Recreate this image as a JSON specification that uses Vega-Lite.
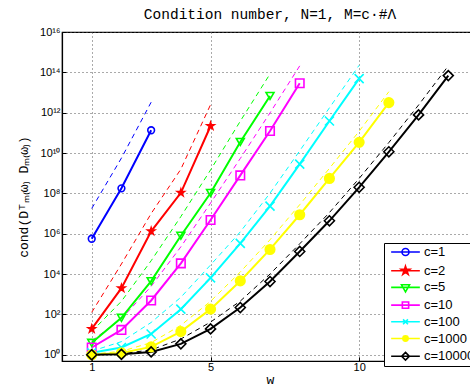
{
  "$schema": "https://vega.github.io/schema/vega-lite/v6.json",
  "width": 416,
  "height": 329,
  "autosize": {"type": "none"},
  "padding": {"left": 62, "top": 32, "right": -8, "bottom": 27},
  "background": "white",
  "title": {"text": "Condition number, N=1, M=c·#Λ", "anchor": "middle", "offset": 4},
  "data": {"values": [
    {"c": "c=1", "w": 1, "m": 5.62e5, "b": 1.78e7},
    {"c": "c=1", "w": 2, "m": 1.78e8, "b": 5.62e9},
    {"c": "c=1", "w": 3, "m": 1.35e11, "b": 3.31e12},
    {"c": "c=2", "w": 1, "m": 19.1, "b": 126},
    {"c": "c=2", "w": 2, "m": 1995, "b": 3.16e4},
    {"c": "c=2", "w": 3, "m": 1.32e6, "b": 1e7},
    {"c": "c=2", "w": 4, "m": 1.07e8, "b": 1.58e9},
    {"c": "c=2", "w": 5, "m": 2.19e11, "b": 2.51e12},
    {"c": "c=5", "w": 1, "m": 3.89, "b": 14.1},
    {"c": "c=5", "w": 2, "m": 67.6, "b": 447},
    {"c": "c=5", "w": 3, "m": 4467, "b": 4.57e4},
    {"c": "c=5", "w": 4, "m": 7.94e5, "b": 7.08e6},
    {"c": "c=5", "w": 5, "m": 1.05e8, "b": 1.45e9},
    {"c": "c=5", "w": 6, "m": 3.55e10, "b": 3.8e11},
    {"c": "c=5", "w": 7, "m": 6.76e12, "b": 8.3e13},
    {"c": "c=10", "w": 1, "m": 2.29, "b": 4.9},
    {"c": "c=10", "w": 2, "m": 17.0, "b": 60.3},
    {"c": "c=10", "w": 3, "m": 490, "b": 2455},
    {"c": "c=10", "w": 4, "m": 3.39e4, "b": 2.24e5},
    {"c": "c=10", "w": 5, "m": 4.79e6, "b": 3.31e7},
    {"c": "c=10", "w": 6, "m": 7.76e8, "b": 5.37e9},
    {"c": "c=10", "w": 7, "m": 1.23e11, "b": 9.77e11},
    {"c": "c=10", "w": 8, "m": 2.88e13, "b": 2.09e14},
    {"c": "c=100", "w": 1, "m": 1.26, "b": 1.51},
    {"c": "c=100", "w": 2, "m": 2.29, "b": 4.47},
    {"c": "c=100", "w": 3, "m": 10.7, "b": 39.8},
    {"c": "c=100", "w": 4, "m": 182, "b": 708},
    {"c": "c=100", "w": 5, "m": 6457, "b": 2.82e4},
    {"c": "c=100", "w": 6, "m": 3.31e5, "b": 1.23e6},
    {"c": "c=100", "w": 7, "m": 2.34e7, "b": 1.02e8},
    {"c": "c=100", "w": 8, "m": 2.82e9, "b": 1.29e10},
    {"c": "c=100", "w": 9, "m": 3.89e11, "b": 1.74e12},
    {"c": "c=100", "w": 10, "m": 4.9e13, "b": 2.24e14},
    {"c": "c=1000", "w": 1, "m": 1.0, "b": 1.07},
    {"c": "c=1000", "w": 2, "m": 1.23, "b": 1.48},
    {"c": "c=1000", "w": 3, "m": 2.45, "b": 3.98},
    {"c": "c=1000", "w": 4, "m": 14.1, "b": 28.8},
    {"c": "c=1000", "w": 5, "m": 182, "b": 447},
    {"c": "c=1000", "w": 6, "m": 4571, "b": 1.26e4},
    {"c": "c=1000", "w": 7, "m": 1.66e5, "b": 5.01e5},
    {"c": "c=1000", "w": 8, "m": 8.71e6, "b": 2.75e7},
    {"c": "c=1000", "w": 9, "m": 5.5e8, "b": 1.74e9},
    {"c": "c=1000", "w": 10, "m": 3.39e10, "b": 1.2e11},
    {"c": "c=1000", "w": 11, "m": 3.16e12, "b": 1.1e13},
    {"c": "c=10000", "w": 1, "m": 1.0, "b": 1.02},
    {"c": "c=10000", "w": 2, "m": 1.05, "b": 1.12},
    {"c": "c=10000", "w": 3, "m": 1.38, "b": 1.74},
    {"c": "c=10000", "w": 4, "m": 3.47, "b": 6.03},
    {"c": "c=10000", "w": 5, "m": 19.1, "b": 41.7},
    {"c": "c=10000", "w": 6, "m": 219, "b": 457},
    {"c": "c=10000", "w": 7, "m": 4266, "b": 1e4},
    {"c": "c=10000", "w": 8, "m": 1.32e5, "b": 3.16e5},
    {"c": "c=10000", "w": 9, "m": 4.37e6, "b": 1.12e7},
    {"c": "c=10000", "w": 10, "m": 2.0e8, "b": 5.5e8},
    {"c": "c=10000", "w": 11, "m": 1.15e10, "b": 3.31e10},
    {"c": "c=10000", "w": 12, "m": 7.76e11, "b": 2.4e12},
    {"c": "c=10000", "w": 13, "m": 6.92e13, "b": 2.09e14}
  ]},
  "transform": [{"fold": ["m", "b"], "as": ["kind", "v"]}],
  "encoding": {
    "x": {
      "field": "w", "type": "quantitative",
      "scale": {"domain": [0, 14], "nice": false, "zero": false},
      "axis": {"values": [1, 5, 10], "title": "w", "titleFont": "Liberation Mono", "titleFontSize": 13, "titlePadding": 1, "labelPadding": 4, "format": "d"}
    },
    "y": {
      "field": "v", "type": "quantitative",
      "scale": {"type": "log", "domain": [0.49, 1e16], "nice": false},
      "axis": {
        "values": [1, 1e2, 1e4, 1e6, 1e8, 1e10, 1e12, 1e14, 1e16],
        "labelExpr": "'10' + ['⁰','','²','','⁴','','⁶','','⁸','','¹⁰','','¹²','','¹⁴','','¹⁶'][round(log(datum.value)/LN10)]",
        "title": "cond(Dᵀₘ₍ω₎ Dₘ₍ω₎)",
        "titleFont": "Liberation Mono", "titleFontSize": 13, "titlePadding": 9, "labelPadding": 6
      }
    }
  },
  "layer": [
    {
      "transform": [{"filter": "datum.kind == 'b'"}],
      "mark": {"type": "line", "strokeDash": [5, 4], "strokeWidth": 1},
      "encoding": {
        "stroke": {"field": "c", "type": "nominal", "legend": null,
          "scale": {"domain": ["c=1","c=2","c=5","c=10","c=100","c=1000","c=10000"], "range": ["#0000ff","#ff0000","#00ff00","#ff00ff","#00ffff","#ffff00","#000000"]}}
      }
    },
    {
      "transform": [{"filter": "datum.kind == 'm'"}],
      "mark": {"type": "line", "strokeWidth": 2},
      "encoding": {
        "stroke": {"field": "c", "type": "nominal", "legend": null,
          "scale": {"domain": ["c=1","c=2","c=5","c=10","c=100","c=1000","c=10000"], "range": ["#0000ff","#ff0000","#00ff00","#ff00ff","#00ffff","#ffff00","#000000"]}}
      }
    },
    {
      "transform": [{"filter": "datum.kind == 'm'"}],
      "mark": {"type": "point", "strokeWidth": 1.6, "opacity": 1},
      "encoding": {
        "stroke": {"field": "c", "type": "nominal", "legend": null,
          "scale": {"domain": ["c=1","c=2","c=5","c=10","c=100","c=1000","c=10000"], "range": ["#0000ff","#ff0000","#00ff00","#ff00ff","#00ffff","#ffff00","#000000"]}},
        "fill": {"field": "c", "type": "nominal", "legend": null,
          "scale": {"domain": ["c=1","c=2","c=5","c=10","c=100","c=1000","c=10000"], "range": ["transparent","#ff0000","transparent","transparent","transparent","#ffff00","transparent"]}},
        "shape": {"field": "c", "type": "nominal", "legend": null,
          "scale": {"domain": ["c=1","c=2","c=5","c=10","c=100","c=1000","c=10000"], "range": ["circle","M0,-1L0.2245,-0.309L0.951,-0.309L0.363,0.118L0.588,0.809L0,0.382L-0.588,0.809L-0.363,0.118L-0.951,-0.309L-0.2245,-0.309Z","triangle-down","square","M-1,-1L1,1M-1,1L1,-1","circle","diamond"]}},
        "size": {"field": "c", "type": "nominal", "legend": null,
          "scale": {"domain": ["c=1","c=2","c=5","c=10","c=100","c=1000","c=10000"], "range": [45, 100, 60, 42, 25, 20, 50]}}
      }
    },
    {
      "transform": [{"filter": "false"}],
      "mark": {"type": "point", "size": 49, "strokeWidth": 1.6, "opacity": 1},
      "encoding": {
        "stroke": {"field": "c", "type": "nominal", "legend": {"title": null},
          "scale": {"domain": ["c=1","c=2","c=5","c=10","c=100","c=1000","c=10000"], "range": ["#0000ff","#ff0000","#00ff00","#ff00ff","#00ffff","#ffff00","#000000"]}},
        "fill": {"field": "c", "type": "nominal", "legend": {"title": null},
          "scale": {"domain": ["c=1","c=2","c=5","c=10","c=100","c=1000","c=10000"], "range": ["transparent","#ff0000","transparent","transparent","transparent","#ffff00","transparent"]}},
        "shape": {"field": "c", "type": "nominal", "legend": {"title": null},
          "scale": {"domain": ["c=1","c=2","c=5","c=10","c=100","c=1000","c=10000"], "range": [
            "M-4.1,0L4.1,0M1,0A1,1,0,1,1,-1,0A1,1,0,1,1,1,0Z",
            "M-4.1,0L4.1,0M0,-1.3L0.292,-0.402L1.236,-0.402L0.472,0.153L0.764,1.052L0,0.497L-0.764,1.052L-0.472,0.153L-1.236,-0.402L-0.292,-0.402Z",
            "M-4.1,0L4.1,0M-1.15,-0.75L1.15,-0.75L0,1.25Z",
            "M-4.1,0L4.1,0M-0.9,-0.9L0.9,-0.9L0.9,0.9L-0.9,0.9Z",
            "M-4.1,0L4.1,0M-0.7,-0.7L0.7,0.7M-0.7,0.7L0.7,-0.7",
            "M-4.1,0L4.1,0M0.75,0A0.75,0.75,0,1,1,-0.75,0A0.75,0.75,0,1,1,0.75,0Z",
            "M-4.1,0L4.1,0M0,-1.1L1.1,0L0,1.1L-1.1,0Z"
          ]}}
      }
    }
  ],
  "resolve": {"scale": {"stroke": "independent", "fill": "independent", "shape": "independent", "size": "independent"}},
  "config": {
    "view": {"stroke": "black", "strokeWidth": 1.2},
    "font": "Liberation Sans",
    "title": {"font": "Liberation Mono", "fontSize": 14.5, "fontWeight": "normal", "color": "black"},
    "axis": {
      "domainColor": "black", "domainWidth": 1.2,
      "tickColor": "black", "tickSize": -4, "tickWidth": 1,
      "labelColor": "black", "labelFont": "Liberation Sans", "labelFontSize": 11,
      "titleColor": "black", "titleFontWeight": "normal",
      "grid": true, "gridColor": "#555555", "gridDash": [1, 3], "gridWidth": 1, "gridOpacity": 1
    },
    "legend": {
      "orient": "none", "legendX": 322, "legendY": 211,
      "strokeColor": "black", "fillColor": "white", "padding": 2.5, "cornerRadius": 0,
      "symbolSize": 49, "symbolStrokeWidth": 1.6, "symbolOffset": 12.5,
      "labelFont": "Liberation Sans", "labelFontSize": 13, "labelColor": "black", "labelOffset": 12,
      "rowPadding": 2.7, "labelLimit": 200
    }
  }
}
